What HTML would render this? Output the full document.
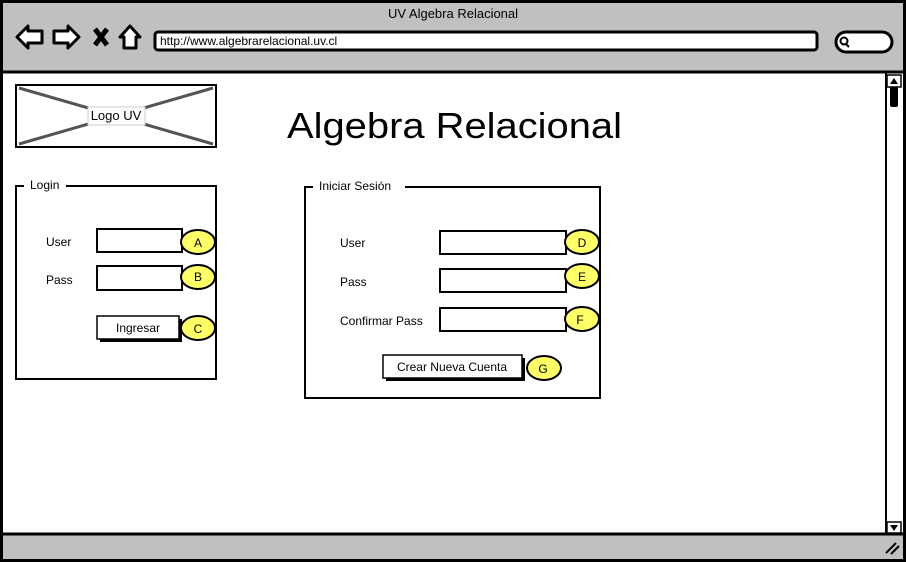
<!DOCTYPE html>
<html><head><meta charset="utf-8"><style>
body{margin:0;background:#fff;}
svg{display:block;font-family:"Liberation Sans",sans-serif;}
</style></head><body>
<svg width="906" height="562" viewBox="0 0 906 562" xmlns="http://www.w3.org/2000/svg">
<rect x="1.5" y="1.5" width="903" height="559" fill="#fff" stroke="#000" stroke-width="3"/>
<rect x="3" y="3" width="900" height="69" fill="#c0c0c0"/>
<line x1="3" y1="72" x2="903" y2="72" stroke="#000" stroke-width="3"/>
<text x="453" y="18" font-size="13" text-anchor="middle">UV Algebra Relacional</text>
<path d="M17 37 L28 26 L28 31 L42 31 L42 43 L28 43 L28 48 Z" fill="#fff" stroke="#000" stroke-width="3" stroke-linejoin="round"/>
<path d="M79 37 L68 26 L68 31 L54 31 L54 43 L68 43 L68 48 Z" fill="#fff" stroke="#000" stroke-width="3" stroke-linejoin="round"/>
<path d="M95 29 L107 45 M107 29 L95 45" stroke="#000" stroke-width="5"/>
<path d="M130 26 L140 37 L136 37 L136 48 L124 48 L124 37 L120 37 Z" fill="#fff" stroke="#000" stroke-width="3" stroke-linejoin="round"/>
<rect x="155" y="32" width="662" height="18" rx="3" fill="#fff" stroke="#000" stroke-width="3"/>
<text x="160" y="45" font-size="12">http://www.algebrarelacional.uv.cl</text>
<rect x="836" y="32" width="56" height="20" rx="10" fill="#fff" stroke="#000" stroke-width="3"/>
<circle cx="844" cy="41" r="3.5" fill="none" stroke="#000" stroke-width="2"/>
<line x1="846" y1="44" x2="849" y2="47" stroke="#000" stroke-width="2"/>
<line x1="886" y1="73" x2="886" y2="535" stroke="#000" stroke-width="2"/>
<rect x="887" y="75" width="14" height="12" fill="#fff" stroke="#000" stroke-width="1.5"/>
<path d="M890 84 L894 78 L898 84Z" fill="#000"/>
<rect x="890" y="87" width="8" height="20" rx="2" fill="#000"/>
<rect x="887" y="522" width="14" height="11" fill="#fff" stroke="#000" stroke-width="1.5"/>
<path d="M890 525 L894 531 L898 525Z" fill="#000"/>
<rect x="3" y="535" width="900" height="24" fill="#c0c0c0"/>
<line x1="3" y1="534" x2="903" y2="534" stroke="#000" stroke-width="3"/>
<path d="M886 553 L896 543 M891 554 L899 546" stroke="#000" stroke-width="2"/>
<rect x="16" y="85" width="200" height="62" fill="#fff" stroke="#000" stroke-width="2"/>
<path d="M19 88 L213 144 M213 88 L19 144" stroke="#555" stroke-width="3"/>
<rect x="88" y="107" width="57" height="18" fill="#fff" stroke="#ccc"/>
<text x="116" y="120" font-size="13" text-anchor="middle">Logo UV</text>
<text x="287" y="138" font-size="36" textLength="335" lengthAdjust="spacingAndGlyphs">Algebra Relacional</text>
<rect x="16" y="186" width="200" height="193" fill="none" stroke="#000" stroke-width="2"/>
<rect x="24" y="178" width="42" height="14" fill="#fff"/>
<text x="30" y="189" font-size="12">Login</text>
<text x="46" y="246" font-size="12">User</text>
<text x="46" y="284" font-size="12">Pass</text>
<rect x="97" y="229" width="85" height="23" fill="#fff" stroke="#000" stroke-width="2"/>
<rect x="97" y="266" width="85" height="24" fill="#fff" stroke="#000" stroke-width="2"/>
<rect x="100" y="319" width="82" height="23" fill="#000"/>
<rect x="97" y="316" width="82" height="23" fill="#fff" stroke="#000" stroke-width="1.5"/>
<text x="138" y="332" font-size="12" text-anchor="middle">Ingresar</text>
<rect x="305" y="187" width="295" height="211" fill="none" stroke="#000" stroke-width="2"/>
<rect x="313" y="179" width="92" height="14" fill="#fff"/>
<text x="319" y="190" font-size="12">Iniciar Sesión</text>
<text x="340" y="247" font-size="12">User</text>
<text x="340" y="286" font-size="12">Pass</text>
<text x="340" y="325" font-size="12">Confirmar Pass</text>
<rect x="440" y="231" width="126" height="23" fill="#fff" stroke="#000" stroke-width="2"/>
<rect x="440" y="269" width="126" height="23" fill="#fff" stroke="#000" stroke-width="2"/>
<rect x="440" y="308" width="126" height="23" fill="#fff" stroke="#000" stroke-width="2"/>
<rect x="386" y="358" width="139" height="23" fill="#000"/>
<rect x="383" y="355" width="139" height="23" fill="#fff" stroke="#000" stroke-width="1.5"/>
<text x="452" y="371" font-size="12" text-anchor="middle">Crear Nueva Cuenta</text>
<g fill="#ffff66" stroke="#000" stroke-width="2" font-size="12">
<ellipse cx="198" cy="242" rx="17" ry="12"/><ellipse cx="198" cy="277" rx="17" ry="12"/>
<ellipse cx="198" cy="328" rx="17" ry="12"/><ellipse cx="582" cy="242" rx="17" ry="12"/>
<ellipse cx="582" cy="276" rx="17" ry="12"/><ellipse cx="582" cy="319" rx="17" ry="12"/>
<ellipse cx="544" cy="368" rx="17" ry="12"/>
</g>
<g font-size="12" text-anchor="middle">
<text x="198" y="247">A</text><text x="198" y="281">B</text><text x="198" y="333">C</text>
<text x="582" y="247">D</text><text x="582" y="281">E</text><text x="580" y="324">F</text>
<text x="543" y="373">G</text>
</g>
</svg>
</body></html>
